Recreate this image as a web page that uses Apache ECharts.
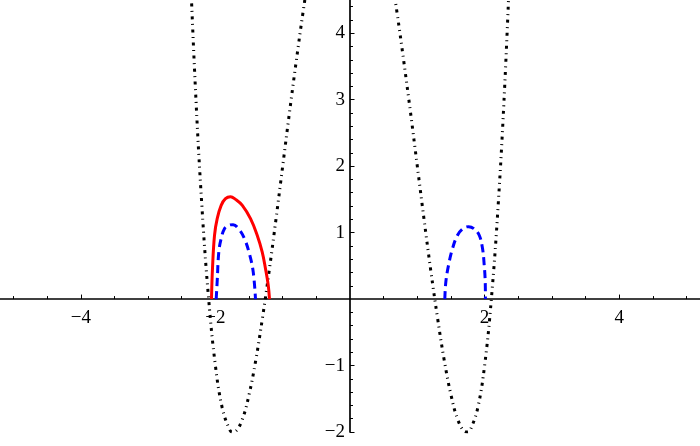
<!DOCTYPE html>
<html>
<head>
<meta charset="utf-8">
<script src="https://cdn.jsdelivr.net/npm/echarts@6/dist/echarts.min.js"></script>
<style>
html,body{margin:0;padding:0;background:#fff;}
#chart{width:700px;height:446px;}
</style>
</head>
<body>
<div id="chart"></div>
<script>
// ---- data ----
var xMajorTicks = [-4, -2, 2, 4];
var xMinorTicks = [-5, -4.5, -3.5, -3, -2.5, -1.5, -1, -0.5, 0.5, 1, 1.5, 2.5, 3, 3.5, 4.5, 5];
var yMajorTicks = [-2, -1, 1, 2, 3, 4];
var yMinorTicks = [-1.8, -1.6, -1.4, -1.2, -0.8, -0.6, -0.4, -0.2, 0.2, 0.4, 0.6, 0.8,
                   1.2, 1.4, 1.6, 1.8, 2.2, 2.4, 2.6, 2.8, 3.2, 3.4, 3.6, 3.8, 4.2, 4.4];

var blackX = [-2.4, -2.3, -2.2, -2.1, -2.0, -1.9, -1.8, -1.75, -1.7, -1.6, -1.5, -1.4, -1.3, -1.2, -1.1, -1.0,
              -0.9, -0.8, -0.7, -0.6, -0.5, -0.4, -0.3, -0.2, -0.1, 0,
              0.1, 0.2, 0.3, 0.4, 0.5, 0.6, 0.7, 0.8, 0.9, 1.0, 1.1, 1.2, 1.3, 1.4, 1.5, 1.6, 1.7, 1.75,
              1.8, 1.9, 2.0, 2.1, 2.2, 2.3, 2.4];
var blackY = [5.62, 3.24, 1.39, 0.0, -1.0, -1.63, -1.94, -2.0, -1.99, -1.81, -1.44, -0.92, -0.28, 0.43, 1.20, 2.0,
              2.80, 3.57, 4.30, 4.97, 5.56, 6.07, 6.47, 6.76, 6.94, 7.0,
              6.94, 6.76, 6.47, 6.07, 5.56, 4.97, 4.30, 3.57, 2.80, 2.0, 1.20, 0.43, -0.28, -0.92, -1.44, -1.81, -1.99, -2.0,
              -1.94, -1.63, -1.0, 0.0, 1.39, 3.24, 5.62];

var redX = [-2.058, -2.043, -2.013, -1.973, -1.914, -1.85, -1.776, -1.70, -1.60, -1.478, -1.379, -1.305, -1.256, -1.215, -1.196];
var redY = [0, 0.46, 0.96, 1.21, 1.41, 1.51, 1.54, 1.50, 1.41, 1.21, 0.96, 0.71, 0.46, 0.21, 0];

var blueLeftX = [-1.988, -1.973, -1.949, -1.914, -1.865, -1.80, -1.736, -1.65, -1.568, -1.489, -1.438, -1.404];
var blueLeftY = [0, 0.27, 0.71, 0.91, 1.06, 1.11, 1.12, 1.05, 0.91, 0.66, 0.41, 0];

var blueRightX = [1.409, 1.424, 1.464, 1.523, 1.597, 1.68, 1.761, 1.84, 1.920, 1.969, 1.994, 2.009, 2.012];
var blueRightY = [0, 0.26, 0.51, 0.76, 0.96, 1.06, 1.09, 1.06, 0.96, 0.76, 0.51, 0.26, 0];

function pairs(xs, ys) { return xs.map(function (x, i) { return [x, ys[i]]; }); }
function fmt(v) { return v < 0 ? '\u2212' + Math.abs(v) : String(v); }

var X_MIN = -5.2, X_MAX = 5.2, Y_MIN = -2, Y_MAX = 4.5;
var GRID_W = 700, GRID_H = 432;
// pixel position of the zero lines inside the grid (axes cross at the origin)
var zeroFromTop = GRID_H * (Y_MAX - 0) / (Y_MAX - Y_MIN);
var zeroFromLeft = GRID_W * (0 - X_MIN) / (X_MAX - X_MIN);

var FONT = 'Liberation Serif';

var chart = echarts.init(document.getElementById('chart'), null, { renderer: 'canvas' });
chart.setOption({
  animation: false,
  backgroundColor: '#fff',
  grid: { left: 0, top: 0, width: GRID_W, height: GRID_H, containLabel: false, outerBoundsMode: 'none' },
  xAxis: [
    {
      type: 'value', min: X_MIN, max: X_MAX, position: 'bottom', offset: -(GRID_H - zeroFromTop),
      axisLine: { show: true, onZero: false, lineStyle: { color: '#000', width: 1.7 } },
      axisTick: { show: true, inside: true, length: 4.5, customValues: xMajorTicks, lineStyle: { color: '#000', width: 1 } },
      axisLabel: { show: true, margin: 9, customValues: xMajorTicks, formatter: fmt,
                   color: '#000', fontFamily: FONT, fontSize: 19 },
      splitLine: { show: false }
    },
    {
      type: 'value', min: X_MIN, max: X_MAX, position: 'top', offset: -zeroFromTop,
      axisLine: { show: false, onZero: false },
      axisTick: { show: true, inside: false, length: 3, customValues: xMinorTicks, lineStyle: { color: '#000', width: 1 } },
      axisLabel: { show: false },
      splitLine: { show: false }
    }
  ],
  yAxis: [
    {
      type: 'value', min: Y_MIN, max: Y_MAX, position: 'left', offset: -zeroFromLeft,
      axisLine: { show: true, onZero: false, lineStyle: { color: '#000', width: 1.7 } },
      axisTick: { show: true, inside: true, length: 4.5, customValues: yMajorTicks, lineStyle: { color: '#000', width: 1 } },
      axisLabel: { show: true, margin: 5, customValues: yMajorTicks, formatter: fmt,
                   color: '#000', fontFamily: FONT, fontSize: 19 },
      splitLine: { show: false }
    },
    {
      type: 'value', min: Y_MIN, max: Y_MAX, position: 'right', offset: -(GRID_W - zeroFromLeft),
      axisLine: { show: false, onZero: false },
      axisTick: { show: true, inside: false, length: 3, customValues: yMinorTicks, lineStyle: { color: '#000', width: 1 } },
      axisLabel: { show: false },
      splitLine: { show: false }
    }
  ],
  series: [
    {
      type: 'line', xAxisIndex: 0, yAxisIndex: 0, data: pairs(blackX, blackY),
      showSymbol: false, smooth: 0.4, clip: true,
      lineStyle: { color: '#000', width: 3, type: [3, 4.5, 1, 4.5], cap: 'butt' }
    },
    {
      type: 'line', xAxisIndex: 0, yAxisIndex: 0, data: pairs(redX, redY),
      showSymbol: false, smooth: 0.4,
      lineStyle: { color: '#ff0000', width: 3 }
    },
    {
      type: 'line', xAxisIndex: 0, yAxisIndex: 0, data: pairs(blueLeftX, blueLeftY),
      showSymbol: false, smooth: 0.4,
      lineStyle: { color: '#0000ff', width: 3, type: [8, 5], cap: 'butt' }
    },
    {
      type: 'line', xAxisIndex: 0, yAxisIndex: 0, data: pairs(blueRightX, blueRightY),
      showSymbol: false, smooth: 0.4,
      lineStyle: { color: '#0000ff', width: 3, type: [8, 5], cap: 'butt' }
    }
  ]
});
</script>
</body>
</html>
